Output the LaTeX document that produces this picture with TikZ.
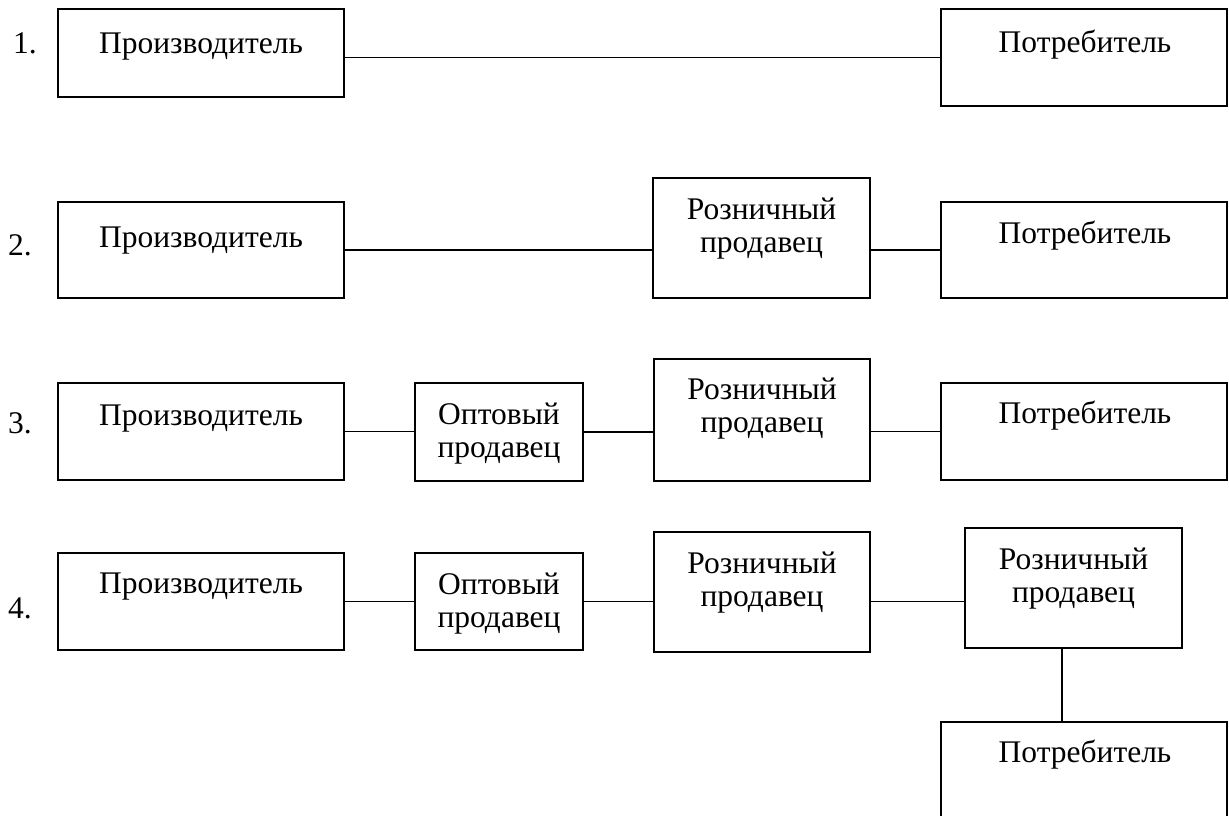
\documentclass[tikz,border=0pt]{standalone}
\usepackage{fontspec}
\setmainfont{Liberation Serif}
\begin{document}
\begin{tikzpicture}[x=1pt,y=-1pt,
  box/.style={draw, line width=1.6pt, inner sep=0pt, outer sep=0pt},
  txt/.style={font=\fontsize{31.5}{32.5}\selectfont, inner sep=0pt, anchor=base, align=center},
  num/.style={font=\fontsize{31.5}{32}\selectfont, inner sep=0pt, anchor=base west},
  link/.style={line width=1.6pt}]
\useasboundingbox (0,0) rectangle (1229,815);
\clip (0,0) rectangle (1229,815);
% row 1
\node[box, minimum width=286pt, minimum height=88pt] (p1) at (201,53) {};
\node[box, minimum width=286pt, minimum height=97pt] (c1) at (1084,57.5) {};
\node[txt] (p1t) at (201,53) {Производитель};
\node[txt] (c1t) at (1085,52) {Потребитель};
\node[num] (n1) at (13,53) {1.};
\draw[link] (p1.east |- c1.west) -- (c1.west);
% row 2
\node[box, minimum width=286pt, minimum height=96pt] (p2) at (201,250) {};
\node[box, minimum width=217pt, minimum height=120pt] (r2) at (761.5,238) {};
\node[box, minimum width=286pt, minimum height=96pt] (c2) at (1084,250) {};
\node[txt] (p2t) at (201,247) {Производитель};
\node[txt] (r2t) at (761.5,252) {Розничный\\продавец};
\node[txt] (c2t) at (1085,243) {Потребитель};
\node[num] (n2) at (8,255) {2.};
\draw[link] (p2.east) -- (r2.west |- p2.east);
\draw[link] (r2.east |- c2.west) -- (c2.west);
% row 3
\node[box, minimum width=286pt, minimum height=97pt] (p3) at (201,431.5) {};
\node[box, minimum width=168pt, minimum height=98pt] (o3) at (499,432) {};
\node[box, minimum width=216pt, minimum height=122pt] (r3) at (762,420) {};
\node[box, minimum width=286pt, minimum height=97pt] (c3) at (1084,431.5) {};
\node[txt] (p3t) at (201,425) {Производитель};
\node[txt] (o3t) at (499,457) {Оптовый\\продавец};
\node[txt] (r3t) at (762,432) {Розничный\\продавец};
\node[txt] (c3t) at (1085,423) {Потребитель};
\node[num] (n3) at (8,433) {3.};
\draw[link] (p3.east) -- (o3.west |- p3.east);
\draw[link] (o3.east) -- (r3.west |- o3.east);
\draw[link] (r3.east |- c3.west) -- (c3.west);
% row 4
\node[box, minimum width=286pt, minimum height=97pt] (p4) at (201,601.5) {};
\node[box, minimum width=168pt, minimum height=97pt] (o4) at (499,601.5) {};
\node[box, minimum width=216pt, minimum height=120pt] (r4) at (762,592) {};
\node[box, minimum width=217pt, minimum height=120pt] (r5) at (1073.5,588) {};
\node[box, minimum width=286pt, minimum height=118pt] (c4) at (1084,781) {};
\node[txt] (p4t) at (201,593) {Производитель};
\node[txt] (o4t) at (499,627) {Оптовый\\продавец};
\node[txt] (r4t) at (762,606) {Розничный\\продавец};
\node[txt] (r5t) at (1073.5,602) {Розничный\\продавец};
\node[txt] (c4t) at (1085,762) {Потребитель};
\node[num] (n4) at (8,618) {4.};
\coordinate (v) at (1062,0);
\draw[link] (p4.east) -- (o4.west |- p4.east);
\draw[link] (o4.east) -- (r4.west |- o4.east);
\draw[link] (r4.east |- o4.east) -- (r5.west |- o4.east);
\draw[link] (r5.south -| v) -- (c4.north -| v);
\end{tikzpicture}
\end{document}
